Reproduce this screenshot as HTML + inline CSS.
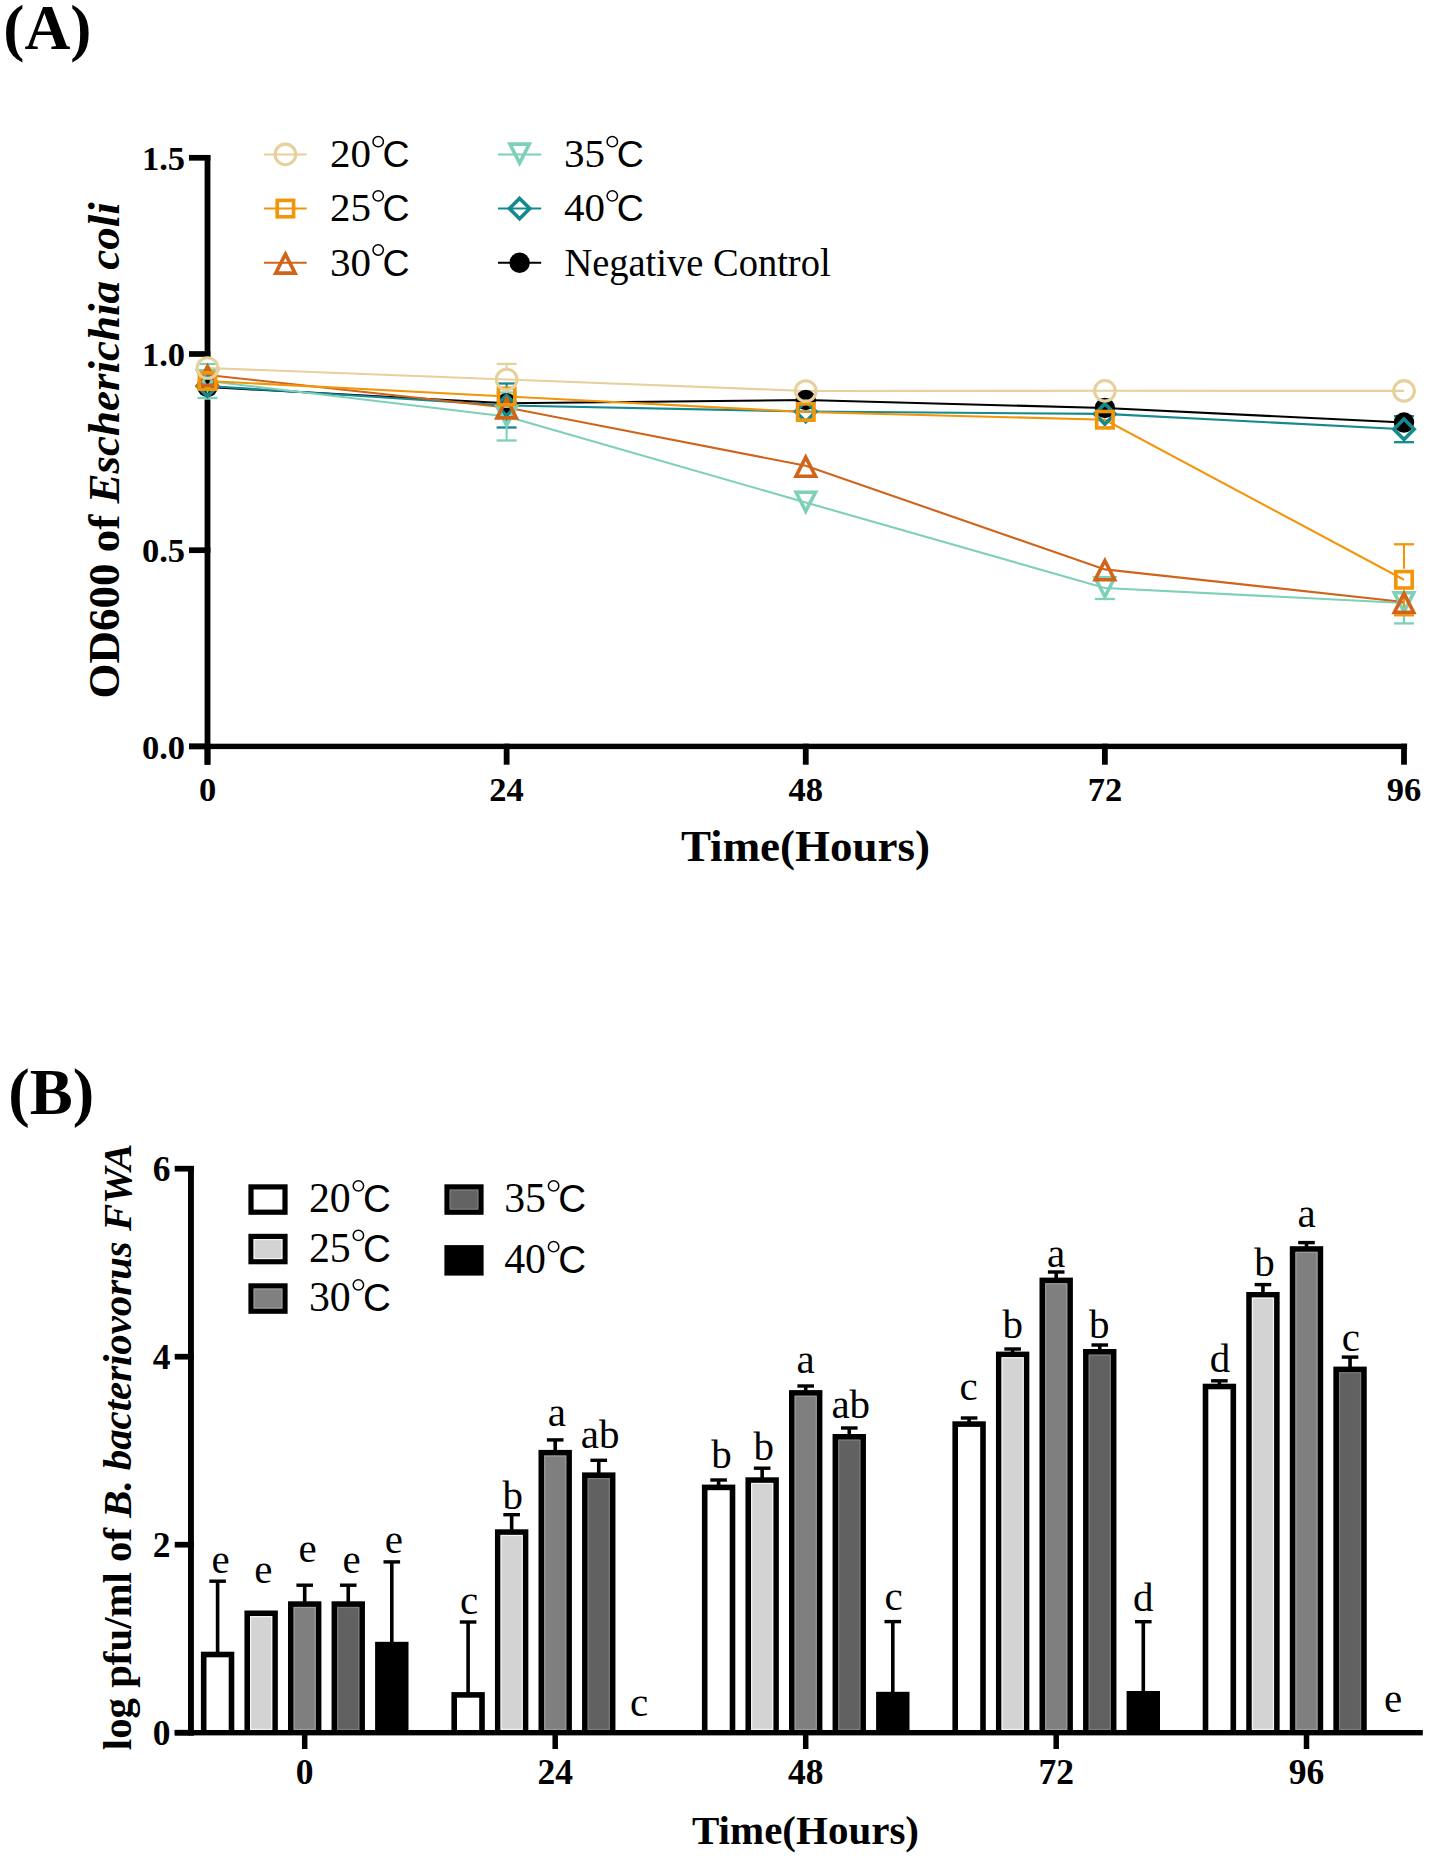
<!DOCTYPE html>
<html><head><meta charset="utf-8"><style>
html,body{margin:0;padding:0;background:#fff;}
svg{display:block;}
</style></head><body>
<svg width="1429" height="1859" viewBox="0 0 1429 1859">
<rect width="1429" height="1859" fill="#fff"/>
<rect x="204.6" y="155" width="5.8" height="609.7" fill="#000"/>
<rect x="189" y="743.55" width="21.4" height="5.7" fill="#000"/>
<text x="185.1" y="758.60" font-family='"Liberation Serif", serif' font-weight="bold" font-size="34.5" text-anchor="end">0.0</text>
<rect x="189" y="547.35" width="21.4" height="5.7" fill="#000"/>
<text x="185.1" y="562.40" font-family='"Liberation Serif", serif' font-weight="bold" font-size="34.5" text-anchor="end">0.5</text>
<rect x="189" y="351.15" width="21.4" height="5.7" fill="#000"/>
<text x="185.1" y="366.20" font-family='"Liberation Serif", serif' font-weight="bold" font-size="34.5" text-anchor="end">1.0</text>
<rect x="189" y="154.95" width="21.4" height="5.7" fill="#000"/>
<text x="185.1" y="170.00" font-family='"Liberation Serif", serif' font-weight="bold" font-size="34.5" text-anchor="end">1.5</text>
<rect x="189" y="743.7" width="1218.1" height="5.4" fill="#000"/>
<rect x="204.60" y="743.7" width="5.8" height="21" fill="#000"/>
<text x="207.50" y="800.8" font-family='"Liberation Serif", serif' font-weight="bold" font-size="34.5" text-anchor="middle">0</text>
<rect x="503.73" y="743.7" width="5.8" height="21" fill="#000"/>
<text x="506.62" y="800.8" font-family='"Liberation Serif", serif' font-weight="bold" font-size="34.5" text-anchor="middle">24</text>
<rect x="802.85" y="743.7" width="5.8" height="21" fill="#000"/>
<text x="805.75" y="800.8" font-family='"Liberation Serif", serif' font-weight="bold" font-size="34.5" text-anchor="middle">48</text>
<rect x="1101.97" y="743.7" width="5.8" height="21" fill="#000"/>
<text x="1104.88" y="800.8" font-family='"Liberation Serif", serif' font-weight="bold" font-size="34.5" text-anchor="middle">72</text>
<rect x="1401.10" y="743.7" width="5.8" height="21" fill="#000"/>
<text x="1404.00" y="800.8" font-family='"Liberation Serif", serif' font-weight="bold" font-size="34.5" text-anchor="middle">96</text>
<text x="805.5" y="861.3" font-family='"Liberation Serif", serif' font-weight="bold" font-size="45" text-anchor="middle">Time(Hours)</text>
<text transform="translate(118.8,450.3) rotate(-90)" font-family='"Liberation Serif", serif' font-weight="bold" font-size="45" text-anchor="middle">OD600 of <tspan font-style="italic">Escherichia coli</tspan></text>
<text x="3.3" y="48.8" font-family='"Liberation Serif", serif' font-weight="bold" font-size="63.5">(A)</text>
<line x1="264" y1="154.4" x2="306.7" y2="154.4" stroke="#E6D09C" stroke-width="2"/>
<circle cx="285.40" cy="154.40" r="10.3" fill="none" stroke="#E6D09C" stroke-width="3.1"/>
<text x="329.96" y="167.20" font-family='"Liberation Serif", serif' font-size="41.0">20</text><circle cx="378.20" cy="141.65" r="5.2" fill="none" stroke="#000" stroke-width="1.5"/><text x="382.62" y="167.20" font-family='"Liberation Sans", sans-serif' font-size="37.5">C</text>
<line x1="264" y1="208.6" x2="306.7" y2="208.6" stroke="#F39508" stroke-width="2"/>
<rect x="277.20" y="200.40" width="16.4" height="16.4" fill="none" stroke="#F39508" stroke-width="3.6"/>
<text x="329.96" y="221.40" font-family='"Liberation Serif", serif' font-size="41.0">25</text><circle cx="378.20" cy="195.85" r="5.2" fill="none" stroke="#000" stroke-width="1.5"/><text x="382.62" y="221.40" font-family='"Liberation Sans", sans-serif' font-size="37.5">C</text>
<line x1="264" y1="262.7" x2="306.7" y2="262.7" stroke="#CF641A" stroke-width="2"/>
<polygon points="285.40,254.10 295.10,273.10 275.70,273.10" fill="none" stroke="#CF641A" stroke-width="3.6" stroke-linejoin="miter"/>
<text x="329.96" y="275.50" font-family='"Liberation Serif", serif' font-size="41.0">30</text><circle cx="378.20" cy="249.95" r="5.2" fill="none" stroke="#000" stroke-width="1.5"/><text x="382.62" y="275.50" font-family='"Liberation Sans", sans-serif' font-size="37.5">C</text>
<line x1="498" y1="154.4" x2="541.2" y2="154.4" stroke="#7ED0B8" stroke-width="2"/>
<polygon points="509.90,144.10 529.30,144.10 519.60,163.10" fill="none" stroke="#7ED0B8" stroke-width="3.6" stroke-linejoin="miter"/>
<text x="564.06" y="167.20" font-family='"Liberation Serif", serif' font-size="41.0">35</text><circle cx="612.30" cy="141.65" r="5.2" fill="none" stroke="#000" stroke-width="1.5"/><text x="616.73" y="167.20" font-family='"Liberation Sans", sans-serif' font-size="37.5">C</text>
<line x1="498" y1="208.6" x2="541.2" y2="208.6" stroke="#14898F" stroke-width="2"/>
<polygon points="519.60,198.40 529.80,208.60 519.60,218.80 509.40,208.60" fill="none" stroke="#14898F" stroke-width="3.6"/>
<text x="564.06" y="221.40" font-family='"Liberation Serif", serif' font-size="41.0">40</text><circle cx="612.30" cy="195.85" r="5.2" fill="none" stroke="#000" stroke-width="1.5"/><text x="616.73" y="221.40" font-family='"Liberation Sans", sans-serif' font-size="37.5">C</text>
<line x1="498" y1="262.8" x2="541.2" y2="262.8" stroke="#000000" stroke-width="2"/>
<circle cx="519.60" cy="262.80" r="10.2" fill="#000000"/>
<text x="564.40" y="276.2" font-family='"Liberation Serif", serif' font-size="40.8" transform="translate(564.4,0) scale(0.944,1) translate(-564.4,0)">Negative Control</text>
<rect x="203.5" y="357.5" width="8" height="42" fill="#fff"/>
<polyline points="207.50,387.00 506.62,403.30 805.75,400.00 1104.88,408.00 1404.00,422.50" fill="none" stroke="#000000" stroke-width="2.1"/>
<polyline points="207.50,386.00 506.62,405.50 805.75,411.50 1104.88,413.90 1404.00,429.20" fill="none" stroke="#14898F" stroke-width="2.1"/>
<polyline points="207.50,381.00 506.62,416.50 805.75,502.50 1104.88,588.00 1404.00,603.00" fill="none" stroke="#7ED0B8" stroke-width="2.1"/>
<polyline points="207.50,375.00 506.62,407.50 805.75,465.80 1104.88,569.40 1404.00,602.00" fill="none" stroke="#CF641A" stroke-width="2.1"/>
<polyline points="207.50,381.00 506.62,396.50 805.75,412.00 1104.88,419.70 1404.00,579.80" fill="none" stroke="#F39508" stroke-width="2.1"/>
<polyline points="207.50,368.00 506.62,379.50 805.75,391.00 1104.88,390.80 1404.00,390.90" fill="none" stroke="#E6D09C" stroke-width="2.1"/>
<line x1="506.62" y1="383.50" x2="506.62" y2="394.50" stroke="#14898F" stroke-width="2.1"/>
<line x1="506.62" y1="416.50" x2="506.62" y2="427.50" stroke="#14898F" stroke-width="2.1"/>
<line x1="496.62" y1="383.50" x2="516.62" y2="383.50" stroke="#14898F" stroke-width="2.3"/>
<line x1="496.62" y1="427.50" x2="516.62" y2="427.50" stroke="#14898F" stroke-width="2.3"/>
<line x1="1404.00" y1="416.20" x2="1404.00" y2="418.20" stroke="#14898F" stroke-width="2.1"/>
<line x1="1404.00" y1="440.20" x2="1404.00" y2="442.20" stroke="#14898F" stroke-width="2.1"/>
<line x1="1394.00" y1="416.20" x2="1414.00" y2="416.20" stroke="#14898F" stroke-width="2.3"/>
<line x1="1394.00" y1="442.20" x2="1414.00" y2="442.20" stroke="#14898F" stroke-width="2.3"/>
<line x1="207.50" y1="364.00" x2="207.50" y2="370.00" stroke="#7ED0B8" stroke-width="2.1"/>
<line x1="207.50" y1="392.00" x2="207.50" y2="398.00" stroke="#7ED0B8" stroke-width="2.1"/>
<line x1="197.50" y1="364.00" x2="217.50" y2="364.00" stroke="#7ED0B8" stroke-width="2.3"/>
<line x1="197.50" y1="398.00" x2="217.50" y2="398.00" stroke="#7ED0B8" stroke-width="2.3"/>
<line x1="506.62" y1="392.50" x2="506.62" y2="405.50" stroke="#7ED0B8" stroke-width="2.1"/>
<line x1="506.62" y1="427.50" x2="506.62" y2="440.50" stroke="#7ED0B8" stroke-width="2.1"/>
<line x1="496.62" y1="392.50" x2="516.62" y2="392.50" stroke="#7ED0B8" stroke-width="2.3"/>
<line x1="496.62" y1="440.50" x2="516.62" y2="440.50" stroke="#7ED0B8" stroke-width="2.3"/>
<line x1="1094.88" y1="577.00" x2="1114.88" y2="577.00" stroke="#7ED0B8" stroke-width="2.3"/>
<line x1="1094.88" y1="599.00" x2="1114.88" y2="599.00" stroke="#7ED0B8" stroke-width="2.3"/>
<line x1="1404.00" y1="614.00" x2="1404.00" y2="623.40" stroke="#7ED0B8" stroke-width="2.1"/>
<line x1="1394.00" y1="623.40" x2="1414.00" y2="623.40" stroke="#7ED0B8" stroke-width="2.3"/>
<line x1="1404.00" y1="544.30" x2="1404.00" y2="568.80" stroke="#F39508" stroke-width="2.1"/>
<line x1="1404.00" y1="590.80" x2="1404.00" y2="615.30" stroke="#F39508" stroke-width="2.1"/>
<line x1="1394.00" y1="544.30" x2="1414.00" y2="544.30" stroke="#F39508" stroke-width="2.3"/>
<line x1="1394.00" y1="615.30" x2="1414.00" y2="615.30" stroke="#F39508" stroke-width="2.3"/>
<line x1="506.62" y1="363.90" x2="506.62" y2="368.50" stroke="#E6D09C" stroke-width="2.1"/>
<line x1="506.62" y1="390.50" x2="506.62" y2="395.10" stroke="#E6D09C" stroke-width="2.1"/>
<line x1="496.62" y1="363.90" x2="516.62" y2="363.90" stroke="#E6D09C" stroke-width="2.3"/>
<line x1="496.62" y1="395.10" x2="516.62" y2="395.10" stroke="#E6D09C" stroke-width="2.3"/>
<circle cx="207.50" cy="387.00" r="10.2" fill="#000000"/>
<circle cx="506.62" cy="403.30" r="10.2" fill="#000000"/>
<circle cx="805.75" cy="400.00" r="10.2" fill="#000000"/>
<circle cx="1104.88" cy="408.00" r="10.2" fill="#000000"/>
<circle cx="1404.00" cy="422.50" r="10.2" fill="#000000"/>
<polygon points="207.50,375.80 217.70,386.00 207.50,396.20 197.30,386.00" fill="none" stroke="#14898F" stroke-width="3.6"/>
<polygon points="506.62,395.30 516.83,405.50 506.62,415.70 496.43,405.50" fill="none" stroke="#14898F" stroke-width="3.6"/>
<polygon points="805.75,401.30 815.95,411.50 805.75,421.70 795.55,411.50" fill="none" stroke="#14898F" stroke-width="3.6"/>
<polygon points="1104.88,403.70 1115.08,413.90 1104.88,424.10 1094.67,413.90" fill="none" stroke="#14898F" stroke-width="3.6"/>
<polygon points="1404.00,419.00 1414.20,429.20 1404.00,439.40 1393.80,429.20" fill="none" stroke="#14898F" stroke-width="3.6"/>
<polygon points="197.80,370.70 217.20,370.70 207.50,389.70" fill="none" stroke="#7ED0B8" stroke-width="3.6" stroke-linejoin="miter"/>
<polygon points="496.93,406.20 516.33,406.20 506.62,425.20" fill="none" stroke="#7ED0B8" stroke-width="3.6" stroke-linejoin="miter"/>
<polygon points="796.05,492.20 815.45,492.20 805.75,511.20" fill="none" stroke="#7ED0B8" stroke-width="3.6" stroke-linejoin="miter"/>
<polygon points="1095.17,577.70 1114.58,577.70 1104.88,596.70" fill="none" stroke="#7ED0B8" stroke-width="3.6" stroke-linejoin="miter"/>
<polygon points="1394.30,592.70 1413.70,592.70 1404.00,611.70" fill="none" stroke="#7ED0B8" stroke-width="3.6" stroke-linejoin="miter"/>
<polygon points="207.50,366.40 217.20,385.40 197.80,385.40" fill="none" stroke="#CF641A" stroke-width="3.6" stroke-linejoin="miter"/>
<polygon points="506.62,398.90 516.33,417.90 496.93,417.90" fill="none" stroke="#CF641A" stroke-width="3.6" stroke-linejoin="miter"/>
<polygon points="805.75,457.20 815.45,476.20 796.05,476.20" fill="none" stroke="#CF641A" stroke-width="3.6" stroke-linejoin="miter"/>
<polygon points="1104.88,560.80 1114.58,579.80 1095.17,579.80" fill="none" stroke="#CF641A" stroke-width="3.6" stroke-linejoin="miter"/>
<polygon points="1404.00,593.40 1413.70,612.40 1394.30,612.40" fill="none" stroke="#CF641A" stroke-width="3.6" stroke-linejoin="miter"/>
<rect x="199.30" y="372.80" width="16.4" height="16.4" fill="none" stroke="#F39508" stroke-width="3.6"/>
<rect x="498.43" y="388.30" width="16.4" height="16.4" fill="none" stroke="#F39508" stroke-width="3.6"/>
<rect x="797.55" y="403.80" width="16.4" height="16.4" fill="none" stroke="#F39508" stroke-width="3.6"/>
<rect x="1096.67" y="411.50" width="16.4" height="16.4" fill="none" stroke="#F39508" stroke-width="3.6"/>
<rect x="1395.80" y="571.60" width="16.4" height="16.4" fill="none" stroke="#F39508" stroke-width="3.6"/>
<circle cx="207.50" cy="368.00" r="10.3" fill="none" stroke="#E6D09C" stroke-width="3.1"/>
<circle cx="506.62" cy="379.50" r="10.3" fill="none" stroke="#E6D09C" stroke-width="3.1"/>
<circle cx="805.75" cy="391.00" r="10.3" fill="none" stroke="#E6D09C" stroke-width="3.1"/>
<circle cx="1104.88" cy="390.80" r="10.3" fill="none" stroke="#E6D09C" stroke-width="3.1"/>
<circle cx="1404.00" cy="390.90" r="10.3" fill="none" stroke="#E6D09C" stroke-width="3.1"/>
<rect x="188" y="1166" width="5.9" height="569.4" fill="#000"/>
<rect x="174.7" y="1729.85" width="19.2" height="5.7" fill="#000"/>
<text x="170.5" y="1744.90" font-family='"Liberation Serif", serif' font-weight="bold" font-size="35.5" text-anchor="end">0</text>
<rect x="174.7" y="1541.85" width="19.2" height="5.7" fill="#000"/>
<text x="170.5" y="1556.90" font-family='"Liberation Serif", serif' font-weight="bold" font-size="35.5" text-anchor="end">2</text>
<rect x="174.7" y="1353.85" width="19.2" height="5.7" fill="#000"/>
<text x="170.5" y="1368.90" font-family='"Liberation Serif", serif' font-weight="bold" font-size="35.5" text-anchor="end">4</text>
<rect x="174.7" y="1165.85" width="19.2" height="5.7" fill="#000"/>
<text x="170.5" y="1180.90" font-family='"Liberation Serif", serif' font-weight="bold" font-size="35.5" text-anchor="end">6</text>
<rect x="174.7" y="1730" width="1248.1" height="5.4" fill="#000"/>
<rect x="301.95" y="1730" width="5.5" height="19" fill="#000"/>
<text x="304.70" y="1784.4" font-family='"Liberation Serif", serif' font-weight="bold" font-size="35.5" text-anchor="middle">0</text>
<rect x="552.45" y="1730" width="5.5" height="19" fill="#000"/>
<text x="555.20" y="1784.4" font-family='"Liberation Serif", serif' font-weight="bold" font-size="35.5" text-anchor="middle">24</text>
<rect x="802.95" y="1730" width="5.5" height="19" fill="#000"/>
<text x="805.70" y="1784.4" font-family='"Liberation Serif", serif' font-weight="bold" font-size="35.5" text-anchor="middle">48</text>
<rect x="1053.45" y="1730" width="5.5" height="19" fill="#000"/>
<text x="1056.20" y="1784.4" font-family='"Liberation Serif", serif' font-weight="bold" font-size="35.5" text-anchor="middle">72</text>
<rect x="1303.75" y="1730" width="5.5" height="19" fill="#000"/>
<text x="1306.50" y="1784.4" font-family='"Liberation Serif", serif' font-weight="bold" font-size="35.5" text-anchor="middle">96</text>
<text x="805.5" y="1843.7" font-family='"Liberation Serif", serif' font-weight="bold" font-size="41" text-anchor="middle">Time(Hours)</text>
<text transform="translate(130.7,1446.8) rotate(-90)" font-family='"Liberation Serif", serif' font-weight="bold" font-size="40.8" text-anchor="middle">log pfu/ml of <tspan font-style="italic">B. bacteriovorus FWA</tspan></text>
<text x="8.2" y="1114.1" font-family='"Liberation Serif", serif' font-weight="bold" font-size="64.5">(B)</text>
<rect x="215.80" y="1581.20" width="3.6" height="72.50" fill="#000"/>
<rect x="209.30" y="1579.50" width="16.6" height="3.4" fill="#000"/>
<rect x="200.90" y="1651.70" width="33.4" height="80.30" fill="#000"/>
<rect x="206.50" y="1657.30" width="22.20" height="72.70" fill="#FFFFFF"/>
<text x="220.50" y="1572.80" font-family='"Liberation Serif", serif' font-size="41" text-anchor="middle">e</text>
<rect x="244.45" y="1610.50" width="33.4" height="121.50" fill="#000"/>
<rect x="250.05" y="1616.10" width="22.20" height="113.90" fill="#D3D3D3"/>
<rect x="250.65" y="1616.70" width="21.00" height="112.70" fill="none" stroke="#F4F4F4" stroke-width="1.2"/>
<text x="263.45" y="1582.50" font-family='"Liberation Serif", serif' font-size="41" text-anchor="middle">e</text>
<rect x="302.90" y="1585.20" width="3.6" height="18.10" fill="#000"/>
<rect x="296.40" y="1583.50" width="16.6" height="3.4" fill="#000"/>
<rect x="288.00" y="1601.30" width="33.4" height="130.70" fill="#000"/>
<rect x="293.60" y="1606.90" width="22.20" height="123.10" fill="#7F7F7F"/>
<rect x="294.20" y="1607.50" width="21.00" height="121.90" fill="none" stroke="#9A9A9A" stroke-width="1.2"/>
<text x="307.50" y="1562.40" font-family='"Liberation Serif", serif' font-size="41" text-anchor="middle">e</text>
<rect x="346.45" y="1585.20" width="3.6" height="18.10" fill="#000"/>
<rect x="339.95" y="1583.50" width="16.6" height="3.4" fill="#000"/>
<rect x="331.55" y="1601.30" width="33.4" height="130.70" fill="#000"/>
<rect x="337.15" y="1606.90" width="22.20" height="123.10" fill="#616161"/>
<rect x="337.75" y="1607.50" width="21.00" height="121.90" fill="none" stroke="#7C7C7C" stroke-width="1.2"/>
<text x="351.55" y="1572.80" font-family='"Liberation Serif", serif' font-size="41" text-anchor="middle">e</text>
<rect x="390.00" y="1561.90" width="3.6" height="81.90" fill="#000"/>
<rect x="383.50" y="1560.20" width="16.6" height="3.4" fill="#000"/>
<rect x="375.10" y="1641.80" width="33.4" height="90.20" fill="#000"/>
<text x="393.90" y="1552.80" font-family='"Liberation Serif", serif' font-size="41" text-anchor="middle">e</text>
<rect x="466.30" y="1622.00" width="3.6" height="72.10" fill="#000"/>
<rect x="459.80" y="1620.30" width="16.6" height="3.4" fill="#000"/>
<rect x="451.40" y="1692.10" width="33.4" height="39.90" fill="#000"/>
<rect x="457.00" y="1697.70" width="22.20" height="32.30" fill="#FFFFFF"/>
<text x="469.20" y="1613.60" font-family='"Liberation Serif", serif' font-size="41" text-anchor="middle">c</text>
<rect x="509.85" y="1514.70" width="3.6" height="16.60" fill="#000"/>
<rect x="503.35" y="1513.00" width="16.6" height="3.4" fill="#000"/>
<rect x="494.95" y="1529.30" width="33.4" height="202.70" fill="#000"/>
<rect x="500.55" y="1534.90" width="22.20" height="195.10" fill="#D3D3D3"/>
<rect x="501.15" y="1535.50" width="21.00" height="193.90" fill="none" stroke="#F4F4F4" stroke-width="1.2"/>
<text x="512.65" y="1509.20" font-family='"Liberation Serif", serif' font-size="41" text-anchor="middle">b</text>
<rect x="553.40" y="1439.90" width="3.6" height="12.00" fill="#000"/>
<rect x="546.90" y="1438.20" width="16.6" height="3.4" fill="#000"/>
<rect x="538.50" y="1449.90" width="33.4" height="282.10" fill="#000"/>
<rect x="544.10" y="1455.50" width="22.20" height="274.50" fill="#7F7F7F"/>
<rect x="544.70" y="1456.10" width="21.00" height="273.30" fill="none" stroke="#9A9A9A" stroke-width="1.2"/>
<text x="556.90" y="1425.50" font-family='"Liberation Serif", serif' font-size="41" text-anchor="middle">a</text>
<rect x="596.95" y="1460.30" width="3.6" height="14.10" fill="#000"/>
<rect x="590.45" y="1458.60" width="16.6" height="3.4" fill="#000"/>
<rect x="582.05" y="1472.40" width="33.4" height="259.60" fill="#000"/>
<rect x="587.65" y="1478.00" width="22.20" height="252.00" fill="#616161"/>
<rect x="588.25" y="1478.60" width="21.00" height="250.80" fill="none" stroke="#7C7C7C" stroke-width="1.2"/>
<text x="600.05" y="1448.00" font-family='"Liberation Serif", serif' font-size="41" text-anchor="middle">ab</text>
<text x="639.20" y="1715.80" font-family='"Liberation Serif", serif' font-size="41" text-anchor="middle">c</text>
<rect x="716.80" y="1480.00" width="3.6" height="6.60" fill="#000"/>
<rect x="710.30" y="1478.30" width="16.6" height="3.4" fill="#000"/>
<rect x="701.90" y="1484.60" width="33.4" height="247.40" fill="#000"/>
<rect x="707.50" y="1490.20" width="22.20" height="239.80" fill="#FFFFFF"/>
<text x="721.60" y="1467.70" font-family='"Liberation Serif", serif' font-size="41" text-anchor="middle">b</text>
<rect x="760.35" y="1468.20" width="3.6" height="11.10" fill="#000"/>
<rect x="753.85" y="1466.50" width="16.6" height="3.4" fill="#000"/>
<rect x="745.45" y="1477.30" width="33.4" height="254.70" fill="#000"/>
<rect x="751.05" y="1482.90" width="22.20" height="247.10" fill="#D3D3D3"/>
<rect x="751.65" y="1483.50" width="21.00" height="245.90" fill="none" stroke="#F4F4F4" stroke-width="1.2"/>
<text x="763.65" y="1460.20" font-family='"Liberation Serif", serif' font-size="41" text-anchor="middle">b</text>
<rect x="803.90" y="1386.00" width="3.6" height="6.10" fill="#000"/>
<rect x="797.40" y="1384.30" width="16.6" height="3.4" fill="#000"/>
<rect x="789.00" y="1390.10" width="33.4" height="341.90" fill="#000"/>
<rect x="794.60" y="1395.70" width="22.20" height="334.30" fill="#7F7F7F"/>
<rect x="795.20" y="1396.30" width="21.00" height="333.10" fill="none" stroke="#9A9A9A" stroke-width="1.2"/>
<text x="805.70" y="1373.00" font-family='"Liberation Serif", serif' font-size="41" text-anchor="middle">a</text>
<rect x="847.45" y="1428.00" width="3.6" height="8.00" fill="#000"/>
<rect x="840.95" y="1426.30" width="16.6" height="3.4" fill="#000"/>
<rect x="832.55" y="1434.00" width="33.4" height="298.00" fill="#000"/>
<rect x="838.15" y="1439.60" width="22.20" height="290.40" fill="#616161"/>
<rect x="838.75" y="1440.20" width="21.00" height="289.20" fill="none" stroke="#7C7C7C" stroke-width="1.2"/>
<text x="850.75" y="1418.20" font-family='"Liberation Serif", serif' font-size="41" text-anchor="middle">ab</text>
<rect x="891.00" y="1621.60" width="3.6" height="72.20" fill="#000"/>
<rect x="884.50" y="1619.90" width="16.6" height="3.4" fill="#000"/>
<rect x="876.10" y="1691.80" width="33.4" height="40.20" fill="#000"/>
<text x="893.70" y="1609.70" font-family='"Liberation Serif", serif' font-size="41" text-anchor="middle">c</text>
<rect x="967.30" y="1418.00" width="3.6" height="5.30" fill="#000"/>
<rect x="960.80" y="1416.30" width="16.6" height="3.4" fill="#000"/>
<rect x="952.40" y="1421.30" width="33.4" height="310.70" fill="#000"/>
<rect x="958.00" y="1426.90" width="22.20" height="303.10" fill="#FFFFFF"/>
<text x="968.60" y="1400.40" font-family='"Liberation Serif", serif' font-size="41" text-anchor="middle">c</text>
<rect x="1010.85" y="1349.00" width="3.6" height="4.60" fill="#000"/>
<rect x="1004.35" y="1347.30" width="16.6" height="3.4" fill="#000"/>
<rect x="995.95" y="1351.60" width="33.4" height="380.40" fill="#000"/>
<rect x="1001.55" y="1357.20" width="22.20" height="372.80" fill="#D3D3D3"/>
<rect x="1002.15" y="1357.80" width="21.00" height="371.60" fill="none" stroke="#F4F4F4" stroke-width="1.2"/>
<text x="1012.65" y="1338.40" font-family='"Liberation Serif", serif' font-size="41" text-anchor="middle">b</text>
<rect x="1054.40" y="1272.00" width="3.6" height="7.60" fill="#000"/>
<rect x="1047.90" y="1270.30" width="16.6" height="3.4" fill="#000"/>
<rect x="1039.50" y="1277.60" width="33.4" height="454.40" fill="#000"/>
<rect x="1045.10" y="1283.20" width="22.20" height="446.80" fill="#7F7F7F"/>
<rect x="1045.70" y="1283.80" width="21.00" height="445.60" fill="none" stroke="#9A9A9A" stroke-width="1.2"/>
<text x="1056.20" y="1267.40" font-family='"Liberation Serif", serif' font-size="41" text-anchor="middle">a</text>
<rect x="1097.95" y="1345.00" width="3.6" height="6.00" fill="#000"/>
<rect x="1091.45" y="1343.30" width="16.6" height="3.4" fill="#000"/>
<rect x="1083.05" y="1349.00" width="33.4" height="383.00" fill="#000"/>
<rect x="1088.65" y="1354.60" width="22.20" height="375.40" fill="#616161"/>
<rect x="1089.25" y="1355.20" width="21.00" height="374.20" fill="none" stroke="#7C7C7C" stroke-width="1.2"/>
<text x="1099.25" y="1338.40" font-family='"Liberation Serif", serif' font-size="41" text-anchor="middle">b</text>
<rect x="1141.50" y="1621.70" width="3.6" height="71.30" fill="#000"/>
<rect x="1135.00" y="1620.00" width="16.6" height="3.4" fill="#000"/>
<rect x="1126.60" y="1691.00" width="33.4" height="41.00" fill="#000"/>
<text x="1143.30" y="1610.70" font-family='"Liberation Serif", serif' font-size="41" text-anchor="middle">d</text>
<rect x="1217.60" y="1380.80" width="3.6" height="4.90" fill="#000"/>
<rect x="1211.10" y="1379.10" width="16.6" height="3.4" fill="#000"/>
<rect x="1202.70" y="1383.70" width="33.4" height="348.30" fill="#000"/>
<rect x="1208.30" y="1389.30" width="22.20" height="340.70" fill="#FFFFFF"/>
<text x="1219.90" y="1371.60" font-family='"Liberation Serif", serif' font-size="41" text-anchor="middle">d</text>
<rect x="1261.15" y="1284.60" width="3.6" height="9.40" fill="#000"/>
<rect x="1254.65" y="1282.90" width="16.6" height="3.4" fill="#000"/>
<rect x="1246.25" y="1292.00" width="33.4" height="440.00" fill="#000"/>
<rect x="1251.85" y="1297.60" width="22.20" height="432.40" fill="#D3D3D3"/>
<rect x="1252.45" y="1298.20" width="21.00" height="431.20" fill="none" stroke="#F4F4F4" stroke-width="1.2"/>
<text x="1264.45" y="1275.50" font-family='"Liberation Serif", serif' font-size="41" text-anchor="middle">b</text>
<rect x="1304.70" y="1242.60" width="3.6" height="5.60" fill="#000"/>
<rect x="1298.20" y="1240.90" width="16.6" height="3.4" fill="#000"/>
<rect x="1289.80" y="1246.20" width="33.4" height="485.80" fill="#000"/>
<rect x="1295.40" y="1251.80" width="22.20" height="478.20" fill="#7F7F7F"/>
<rect x="1296.00" y="1252.40" width="21.00" height="477.00" fill="none" stroke="#9A9A9A" stroke-width="1.2"/>
<text x="1306.70" y="1226.70" font-family='"Liberation Serif", serif' font-size="41" text-anchor="middle">a</text>
<rect x="1348.25" y="1357.10" width="3.6" height="11.50" fill="#000"/>
<rect x="1341.75" y="1355.40" width="16.6" height="3.4" fill="#000"/>
<rect x="1333.35" y="1366.60" width="33.4" height="365.40" fill="#000"/>
<rect x="1338.95" y="1372.20" width="22.20" height="357.80" fill="#616161"/>
<rect x="1339.55" y="1372.80" width="21.00" height="356.60" fill="none" stroke="#7C7C7C" stroke-width="1.2"/>
<text x="1350.75" y="1350.90" font-family='"Liberation Serif", serif' font-size="41" text-anchor="middle">c</text>
<text x="1393.20" y="1711.60" font-family='"Liberation Serif", serif' font-size="41" text-anchor="middle">e</text>
<rect x="248.4" y="1184.3" width="39.2" height="30.5" fill="#000"/>
<rect x="253.6" y="1189.5" width="28.8" height="20.1" fill="#FFFFFF"/>
<text x="308.93" y="1212.10" font-family='"Liberation Serif", serif' font-size="41.8">20</text><circle cx="358.40" cy="1185.85" r="5.2" fill="none" stroke="#000" stroke-width="1.5"/><text x="362.97" y="1212.10" font-family='"Liberation Sans", sans-serif' font-size="38.6">C</text>
<rect x="248.4" y="1233.8" width="39.2" height="30.5" fill="#000"/>
<rect x="253.6" y="1239.0" width="28.8" height="20.1" fill="#D3D3D3"/>
<rect x="254.20" y="1239.60" width="27.6" height="18.9" fill="none" stroke="#F4F4F4" stroke-width="1.2"/>
<text x="308.93" y="1261.60" font-family='"Liberation Serif", serif' font-size="41.8">25</text><circle cx="358.40" cy="1235.35" r="5.2" fill="none" stroke="#000" stroke-width="1.5"/><text x="362.97" y="1261.60" font-family='"Liberation Sans", sans-serif' font-size="38.6">C</text>
<rect x="248.4" y="1283.3" width="39.2" height="30.5" fill="#000"/>
<rect x="253.6" y="1288.5" width="28.8" height="20.1" fill="#808080"/>
<rect x="254.20" y="1289.10" width="27.6" height="18.9" fill="none" stroke="#9A9A9A" stroke-width="1.2"/>
<text x="308.93" y="1311.10" font-family='"Liberation Serif", serif' font-size="41.8">30</text><circle cx="358.40" cy="1284.85" r="5.2" fill="none" stroke="#000" stroke-width="1.5"/><text x="362.97" y="1311.10" font-family='"Liberation Sans", sans-serif' font-size="38.6">C</text>
<rect x="444.4" y="1184.3" width="39.2" height="30.5" fill="#000"/>
<rect x="449.59999999999997" y="1189.5" width="28.8" height="20.1" fill="#636363"/>
<rect x="450.20" y="1190.10" width="27.6" height="18.9" fill="none" stroke="#7C7C7C" stroke-width="1.2"/>
<text x="504.13" y="1212.10" font-family='"Liberation Serif", serif' font-size="41.8">35</text><circle cx="553.60" cy="1185.85" r="5.2" fill="none" stroke="#000" stroke-width="1.5"/><text x="558.17" y="1212.10" font-family='"Liberation Sans", sans-serif' font-size="38.6">C</text>
<rect x="444.4" y="1245.1" width="39.2" height="30.5" fill="#000"/>
<text x="504.13" y="1272.90" font-family='"Liberation Serif", serif' font-size="41.8">40</text><circle cx="553.60" cy="1246.65" r="5.2" fill="none" stroke="#000" stroke-width="1.5"/><text x="558.17" y="1272.90" font-family='"Liberation Sans", sans-serif' font-size="38.6">C</text>
</svg>
</body></html>
